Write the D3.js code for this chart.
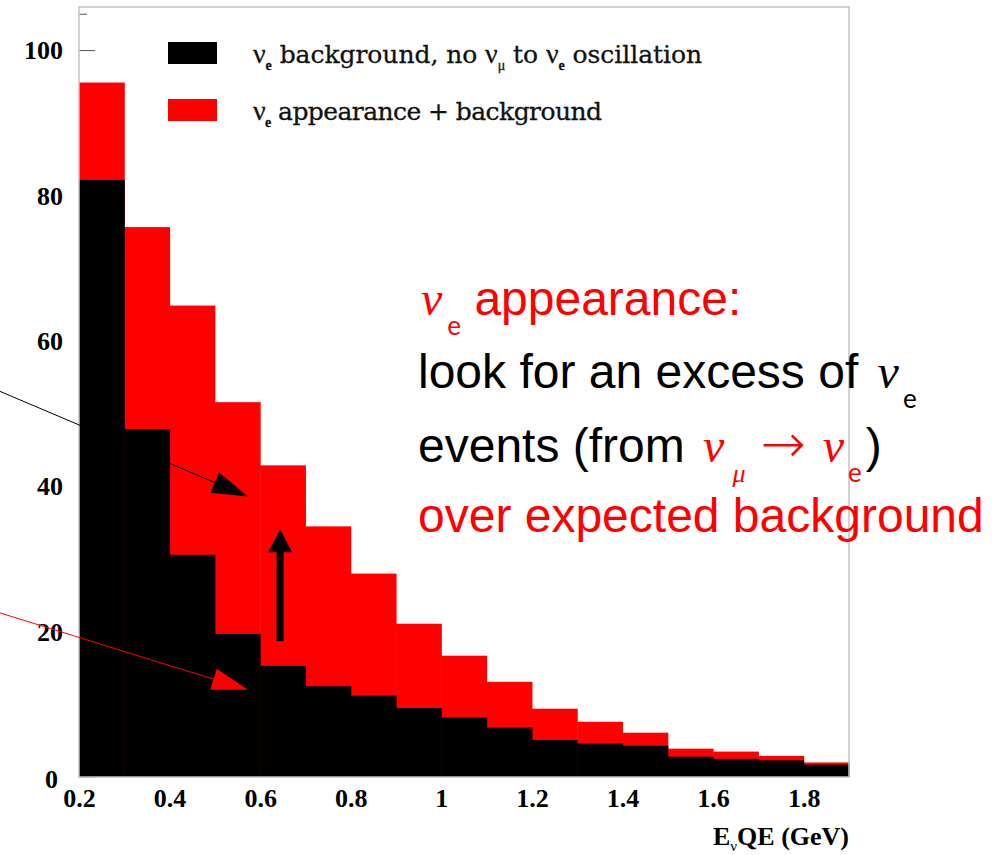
<!DOCTYPE html>
<meta charset="utf-8">
<script src="https://d3js.org/d3.v7.min.js"></script>
<style>
  body { margin: 0; background: #fff; }
</style>
<div id="chart"></div>
<script>

// lower bin edges (GeV), bins are 0.1 wide
var binEdges = [0.2, 0.3, 0.4, 0.5, 0.6, 0.7, 0.8, 0.9, 1.0, 1.1, 1.2, 1.3, 1.4, 1.5, 1.6, 1.7, 1.8];
// nu_e appearance + background (red)
var appearance = [95.6, 75.7, 64.9, 51.6, 42.9, 34.5, 28.0, 21.1, 16.7, 13.1, 9.4, 7.6, 6.1, 3.9, 3.5, 2.9, 2.0];
// nu_e background only (black)
var background = [82.2, 47.9, 30.6, 19.7, 15.3, 12.5, 11.2, 9.5, 8.2, 6.8, 5.1, 4.6, 4.3, 2.8, 2.5, 2.3, 1.7];

var xTicks = [0.2, 0.4, 0.6, 0.8, 1, 1.2, 1.4, 1.6, 1.8];
var yTicks = [0, 20, 40, 60, 80, 100];

// annotation arrows, in data units [x0, y0, x1, y1]
var arrowBlack = [0.025, 53.1, 0.573, 38.6];
var arrowRed = [0.025, 22.6, 0.573, 12.0];
var arrowUp = [0.644, 18.7, 0.644, 34.1];

var margin = {top: 7, left: 79},
    width = 770,
    height = 770;

var svg = d3.select("#chart")
  .append("svg")
    .attr("width", 995)
    .attr("height", 855);

var g = svg.append("g")
  .attr("transform", "translate(" + margin.left + "," + margin.top + ")");

var x = d3.scaleLinear().domain([0.2, 1.9]).range([0, width]);
var y = d3.scaleLinear().domain([0, 106]).range([height, 0]);

var bins = binEdges.map(function(d, i) {
  return {x0: d, x1: d + 0.1, total: appearance[i], bkg: background[i]};
});

// minor/major ticks sit under the bars, like in ROOT
g.append("g").selectAll("line")
  .data(d3.range(0, 106, 5))
  .enter().append("line")
    .attr("x1", 0)
    .attr("x2", function(d) { return d % 20 === 0 ? 16 : 8; })
    .attr("y1", function(d) { return y(d); })
    .attr("y2", function(d) { return y(d); })
    .attr("stroke", "#555")
    .attr("stroke-width", 1);

// red: appearance + background
g.selectAll("rect.red")
  .data(bins)
  .enter().append("rect")
    .attr("class", "red")
    .attr("x", function(d) { return x(d.x0); })
    .attr("y", function(d) { return y(d.total); })
    .attr("width", function(d) { return x(d.x1) - x(d.x0) + 0.5; })
    .attr("height", function(d) { return height - y(d.total); })
    .attr("fill", "#ff0000");

// black: background
g.selectAll("rect.blk")
  .data(bins)
  .enter().append("rect")
    .attr("class", "blk")
    .attr("x", function(d) { return x(d.x0); })
    .attr("y", function(d) { return y(d.bkg); })
    .attr("width", function(d) { return x(d.x1) - x(d.x0) + 0.5; })
    .attr("height", function(d) { return height - y(d.bkg); })
    .attr("fill", "#000");

// frame
g.append("rect")
  .attr("x", 0).attr("y", 0)
  .attr("width", width).attr("height", height)
  .attr("fill", "none")
  .attr("stroke", "#c4c4c4")
  .attr("stroke-width", 1.5);

var yAxis = g.append("g")
  .call(d3.axisLeft(y).tickValues(yTicks).tickSize(0).tickPadding(16));
yAxis.select(".domain").remove();
yAxis.selectAll("text")
  .attr("font-family", "'Liberation Serif', serif")
  .attr("font-weight", "bold")
  .attr("font-size", 26)
  .attr("fill", "#000");
yAxis.selectAll(".tick").filter(function(d) { return d === 0; })
  .select("text").attr("dy", "0.4em").attr("x", -21);

var xAxis = g.append("g")
  .attr("transform", "translate(0," + height + ")")
  .call(d3.axisBottom(x).tickValues(xTicks).tickSize(0).tickPadding(12)
    .tickFormat(d3.format("")));
xAxis.select(".domain").remove();
xAxis.selectAll("text")
  .attr("font-family", "'Liberation Serif', serif")
  .attr("font-weight", "bold")
  .attr("font-size", 26)
  .attr("fill", "#000");

// x axis title
var xt = g.append("text")
  .attr("x", width)
  .attr("y", height + 68)
  .attr("text-anchor", "end")
  .attr("font-family", "'Liberation Serif', serif")
  .attr("font-weight", "bold")
  .attr("font-size", 26)
  .attr("fill", "#000");
xt.append("tspan").text("E");
xt.append("tspan").attr("font-size", 15).attr("dy", 6).attr("font-weight", "normal").text("ν");
xt.append("tspan").attr("dy", -6).text("QE (GeV)");

// legend: [text, subscript?]
var legend = [
  {color: "#000", len: 449, parts: [["ν", 0], ["e", 1], [" background, no ", 0], ["ν", 0], ["μ", 2], [" to ", 0], ["ν", 0], ["e", 1], [" oscillation", 0]]},
  {color: "#ff0000", len: 349, parts: [["ν", 0], ["e", 1], [" appearance + background", 0]]}
];
var lg = g.selectAll("g.legend")
  .data(legend)
  .enter().append("g")
    .attr("class", "legend")
    .attr("transform", function(d, i) { return "translate(89," + (35 + i * 57) + ")"; });
lg.append("rect")
  .attr("width", 49).attr("height", 22)
  .attr("fill", function(d) { return d.color; });
var lt = lg.append("text")
  .attr("x", 85)
  .attr("y", 21)
  .attr("font-family", "'DejaVu Serif', serif")
  .attr("font-size", 25)
  .attr("fill", "#111")
  .attr("stroke", "#111")
  .attr("stroke-width", 0.3)
  .attr("textLength", function(d) { return d.len; })
  .attr("lengthAdjust", "spacing");
lt.each(function(d) {
  var t = d3.select(this), sub = 0;
  d.parts.forEach(function(p) {
    var ts = t.append("tspan").text(p[0]);
    if (p[0] === "ν") ts.attr("font-family", "'Liberation Serif', serif").attr("font-size", 28);
    if (p[1] && !sub) {
      ts.attr("dy", 7).attr("font-size", 14)
        .attr("font-family", "'Liberation Serif', serif")
        .attr("font-weight", p[1] === 1 ? "bold" : "normal");
      sub = 1;
    } else if (!p[1] && sub) { ts.attr("dy", -7); sub = 0; }
  });
});

// annotation arrows
function headPoints(a, len, half) {
  var x0 = x(a[0]), y0 = y(a[1]), x1 = x(a[2]), y1 = y(a[3]);
  var ang = Math.atan2(y1 - y0, x1 - x0);
  var bx = x1 - len * Math.cos(ang), by = y1 - len * Math.sin(ang);
  var px = -Math.sin(ang) * half, py = Math.cos(ang) * half;
  return [[x1, y1], [bx + px, by + py], [bx - px, by - py]];
}
function drawArrow(a, color, sw, len, half) {
  var pts = headPoints(a, len, half);
  var ang = Math.atan2(y(a[3]) - y(a[1]), x(a[2]) - x(a[0]));
  g.append("line")
    .attr("x1", x(a[0])).attr("y1", y(a[1]))
    .attr("x2", x(a[2]) - (len - 2) * Math.cos(ang))
    .attr("y2", y(a[3]) - (len - 2) * Math.sin(ang))
    .attr("stroke", color)
    .attr("stroke-width", sw);
  g.append("polygon")
    .attr("points", pts.map(function(p) { return p.join(","); }).join(" "))
    .attr("fill", color);
}
drawArrow(arrowBlack, "#000", 1, 36, 11);
drawArrow(arrowRed, "#ff0000", 1, 36, 11);
drawArrow(arrowUp, "#000", 7, 23, 12);

// annotation text
var note = svg.append("g").attr("transform", "translate(418,0)");
var sans = "'Liberation Sans', Arial, sans-serif",
    greek = "'Liberation Serif', serif",
    subf = "Lato, 'Open Sans', sans-serif";

function noteLine(yb, parts) {
  var t = note.append("text").attr("x", 0).attr("y", yb).attr("font-size", 48);
  var sub = 0;
  parts.forEach(function(p) {
    var ts = t.append("tspan").text(p.s).attr("fill", p.c);
    if (p.k === "g") ts.attr("font-family", greek).attr("font-style", "italic");
    else if (p.k === "arrow") ts.attr("font-family", "'DejaVu Sans', sans-serif").attr("font-size", 54).attr("font-weight", 200);
    else ts.attr("font-family", sans);
    if (p.dx) ts.attr("dx", p.dx);
    if (p.k === "sub") {
      ts.attr("font-size", 26).attr("font-family", subf).attr("dy", 20);
      sub = 1;
    } else if (p.k === "gsub") {
      ts.attr("font-size", 26).attr("font-family", greek).attr("font-style", "italic").attr("dy", 20);
      sub = 1;
    } else if (sub) {
      ts.attr("dy", -20); sub = 0;
    }
  });
}
noteLine(315, [
  {s: "ν", c: "#ff0000", k: "g", dx: 3}, {s: "e", c: "#ff0000", k: "sub", dx: 5},
  {s: " appearance:", c: "#ff0000"}
]);
noteLine(388, [
  {s: "look for an excess of ", c: "#000"},
  {s: "ν", c: "#000", k: "g", dx: 6}, {s: "e", c: "#000", k: "sub", dx: 4}
]);
noteLine(462, [
  {s: "events (from ", c: "#000"},
  {s: "ν", c: "#ff0000", k: "g", dx: 5}, {s: "μ", c: "#ff0000", k: "gsub", dx: 8},
  {s: "→", c: "#ff0000", k: "arrow", dx: 15},
  {s: "ν", c: "#ff0000", k: "g", dx: 17}, {s: "e", c: "#ff0000", k: "sub", dx: 4},
  {s: ")", c: "#000", dx: 4}
]);
noteLine(532, [
  {s: "over expected background", c: "#ff0000"}
]);

</script>
